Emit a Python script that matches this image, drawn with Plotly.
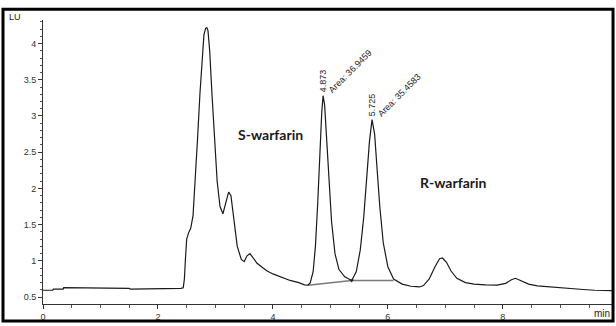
import plotly.graph_objects as go

# Chromatogram trace (time in min, signal in LU)
time_min = [0.0, 0.17, 0.18, 0.35, 0.36, 1.28, 1.30, 1.50, 1.52, 2.10, 2.40, 2.44,
            2.46, 2.48, 2.50, 2.53, 2.57, 2.61, 2.65, 2.69, 2.73, 2.77, 2.80, 2.83, 2.85,
            2.87, 2.90, 2.94, 2.98, 3.03, 3.08, 3.13, 3.18, 3.23, 3.27, 3.32, 3.38,
            3.45, 3.50, 3.55, 3.60, 3.65, 3.72, 3.80, 3.90, 4.00, 4.15, 4.30, 4.45,
            4.55, 4.61, 4.65, 4.70, 4.74, 4.78, 4.82, 4.85, 4.873, 4.90, 4.93, 4.97,
            5.02, 5.08, 5.15, 5.25, 5.37, 5.45, 5.52, 5.58, 5.63, 5.68, 5.725, 5.77,
            5.81, 5.86, 5.92, 6.00, 6.10, 6.25, 6.40, 6.55, 6.62, 6.72, 6.82, 6.90,
            6.95, 7.02, 7.10, 7.20, 7.35, 7.50, 7.70, 7.90, 8.05, 8.15, 8.22, 8.30,
            8.45, 8.60, 8.80, 9.00, 9.20, 9.40, 9.60, 9.90]
signal_lu = [0.595, 0.595, 0.61, 0.61, 0.63, 0.63, 0.62, 0.62, 0.61, 0.61, 0.62, 0.63,
             0.75, 1.05, 1.30, 1.38, 1.45, 1.62, 2.10, 2.70, 3.30, 3.85, 4.12, 4.21, 4.22,
             4.18, 3.90, 3.30, 2.70, 2.10, 1.75, 1.65, 1.80, 1.95, 1.90, 1.55, 1.20,
             1.02, 0.99, 1.07, 1.10, 1.05, 0.97, 0.92, 0.86, 0.82, 0.77, 0.73, 0.70,
             0.67, 0.665, 0.70, 0.85, 1.20, 1.80, 2.55, 3.05, 3.28, 3.15, 2.75, 2.15,
             1.55, 1.10, 0.88, 0.78, 0.73, 0.85, 1.15, 1.60, 2.15, 2.65, 2.95, 2.75,
             2.30, 1.75, 1.25, 0.92, 0.75, 0.68, 0.65, 0.64, 0.66, 0.75, 0.92, 1.03,
             1.04, 0.98, 0.86, 0.76, 0.70, 0.68, 0.67, 0.665, 0.69, 0.74, 0.76, 0.73,
             0.68, 0.655, 0.64, 0.63, 0.615, 0.605, 0.595, 0.59]

# Integration baseline drawn under the two warfarin peaks
base_t = [4.61, 5.37, 6.10]
base_v = [0.665, 0.73, 0.73]

# Peak labels
peak_rt = [4.873, 5.725]
peak_top = [3.28, 2.95]
peak_area = ["Area: 36.9459", "Area: 35.4583"]
peak_names = ["S-warfarin", "R-warfarin"]
name_pos_t = [3.95, 7.15]
name_pos_v = [2.74, 2.08]

y_ticks = [0.5, 1, 1.5, 2, 2.5, 3, 3.5, 4]
x_ticks = [0, 2, 4, 6, 8]

fig = go.Figure()
fig.add_trace(go.Scatter(x=base_t, y=base_v, mode="lines",
                         line=dict(color="#7a7a7a", width=1.5), hoverinfo="skip"))
fig.add_trace(go.Scatter(x=time_min, y=signal_lu, mode="lines",
                         line=dict(color="#1a1a1a", width=1.2), hoverinfo="skip"))
fig.add_trace(go.Scatter(x=[base_t[1]], y=[base_v[1]], mode="markers",
                         marker=dict(symbol="triangle-down", size=4, color="#222"),
                         hoverinfo="skip"))

annots = []
for rt, top, area in zip(peak_rt, peak_top, peak_area):
    annots.append(dict(x=rt, y=top, xref="x", yref="y", text=f"{rt:.3f}",
                       textangle=-90, showarrow=False, xanchor="center", yanchor="bottom",
                       yshift=1, font=dict(family="Liberation Sans", size=9, color="#222")))
    annots.append(dict(x=rt, y=top, xref="x", yref="y", text=area,
                       textangle=-45, showarrow=False, xanchor="left", yanchor="bottom",
                       xshift=1, yshift=-2, font=dict(family="Liberation Sans", size=9, color="#222")))
for nm, t, v in zip(peak_names, name_pos_t, name_pos_v):
    annots.append(dict(x=t, y=v, xref="x", yref="y", text=f"<b>{nm}</b>", showarrow=False,
                       font=dict(family="Lato", size=14, color="#1a1a1a")))
annots.append(dict(x=-0.049, y=1.01, xref="paper", yref="paper", text="LU", showarrow=False,
                   xanchor="center", yanchor="middle",
                   font=dict(family="Liberation Sans", size=9, color="#222")))
annots.append(dict(x=1.0, y=0, xref="paper", yref="paper", text="min", showarrow=False,
                   xanchor="right", yanchor="top", yshift=-2,
                   font=dict(family="Liberation Sans", size=10, color="#222")))

fig.update_layout(
    width=616, height=326,
    margin=dict(l=43, r=4, t=20, b=16),
    paper_bgcolor="white", plot_bgcolor="white",
    showlegend=False,
    annotations=annots,
    shapes=[dict(type="rect", xref="paper", yref="paper",
                 x0=-0.0703, x1=1.0018, y0=-0.06, y1=1.038,
                 line=dict(color="black", width=3))],
)
fig.update_xaxes(range=[0, 9.9], tickvals=x_ticks, ticktext=[str(v) for v in x_ticks],
                 showgrid=False, zeroline=False, showline=True, linecolor="#333", linewidth=1,
                 ticks="outside", ticklen=4, tickcolor="#333",
                 minor=dict(dtick=0.5, tick0=0, ticks="outside", ticklen=3, tickcolor="#555"),
                 tickfont=dict(family="Liberation Sans", size=9, color="#333"))
fig.update_yaxes(range=[0.405, 4.325], tickvals=y_ticks, ticktext=[f"{v:g}" for v in y_ticks],
                 showgrid=False, zeroline=False, showline=True, linecolor="#333", linewidth=1,
                 ticks="outside", ticklen=4, tickcolor="#333",
                 minor=dict(dtick=0.1, tick0=0, ticks="outside", ticklen=2, tickcolor="#555"),
                 tickfont=dict(family="Liberation Sans", size=9, color="#333"))

fig.write_html("out.html")
